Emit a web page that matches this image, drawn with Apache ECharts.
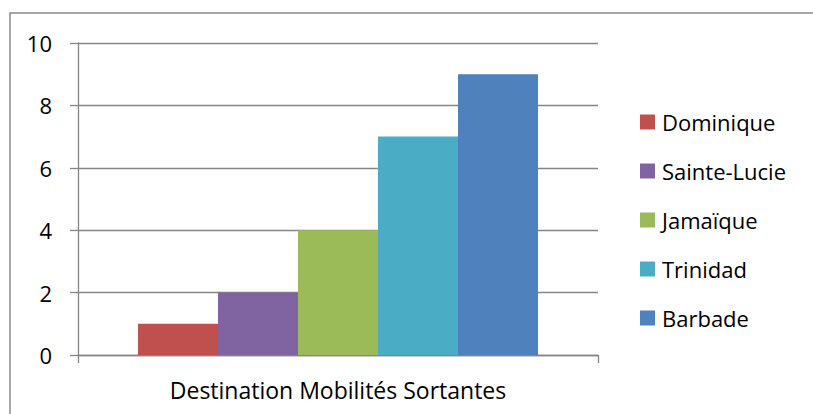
<!DOCTYPE html>
<html>
<head>
<meta charset="utf-8">
<script src="https://cdn.jsdelivr.net/npm/echarts@6/dist/echarts.min.js"></script>
<style>
html,body{margin:0;padding:0;background:#fff;}
#chart{width:813px;height:414px;}
</style>
</head>
<body>
<div id="chart"></div>
<script>
const categories = ['Destination Mobilités Sortantes'];
const seriesNames = ['Dominique', 'Sainte-Lucie', 'Jamaïque', 'Trinidad', 'Barbade'];
const seriesValues = [[1], [2], [4], [7], [9]];
const seriesColors = ['#C0504D', '#8064A2', '#9BBB59', '#4BACC6', '#4F81BD'];
const yTicks = { min: 0, max: 10, interval: 2 };

const FONT = 'Open Sans';
const axisColor = '#868686';

const chart = echarts.init(document.getElementById('chart'), null, { renderer: 'svg' });
chart.setOption({
  animation: false,
  backgroundColor: '#fff',
  textStyle: { fontFamily: FONT },
  graphic: [{
    type: 'rect',
    shape: { x: 10, y: 13, width: 820, height: 420 },
    style: { fill: 'none', stroke: '#8c8c8c', lineWidth: 1.5 },
    silent: true
  }],
  grid: { left: 78, right: 215, top: 43, bottom: 59, containLabel: false },
  legend: {
    orient: 'vertical',
    left: 640,
    top: 111,
    padding: 0,
    itemWidth: 15,
    itemHeight: 15,
    itemGap: 27,
    icon: 'rect',
    data: seriesNames,
    textStyle: { fontFamily: FONT, fontSize: 22, color: '#000', lineHeight: 21, padding: [0, 0, 0, 2] }
  },
  xAxis: {
    type: 'category',
    data: categories,
    axisLine: { lineStyle: { color: axisColor, width: 1.3 } },
    axisTick: { show: true, length: 8, lineStyle: { color: axisColor, width: 1.3 } },
    axisLabel: { fontFamily: FONT, fontSize: 23, color: '#000', margin: 23 }
  },
  yAxis: {
    type: 'value',
    min: yTicks.min,
    max: yTicks.max,
    interval: yTicks.interval,
    axisLine: { show: true, lineStyle: { color: axisColor, width: 1.3 } },
    axisTick: { show: true, length: 8, lineStyle: { color: axisColor, width: 1.3 } },
    splitLine: { lineStyle: { color: axisColor, width: 1.3 } },
    axisLabel: { fontFamily: FONT, fontSize: 22, color: '#000', margin: 26 }
  },
  series: seriesNames.map((name, i) => ({
    name: name,
    type: 'bar',
    data: seriesValues[i],
    itemStyle: { color: seriesColors[i] },
    barGap: '0%',
    barCategoryGap: '23.08%'
  }))
});
</script>
</body>
</html>
